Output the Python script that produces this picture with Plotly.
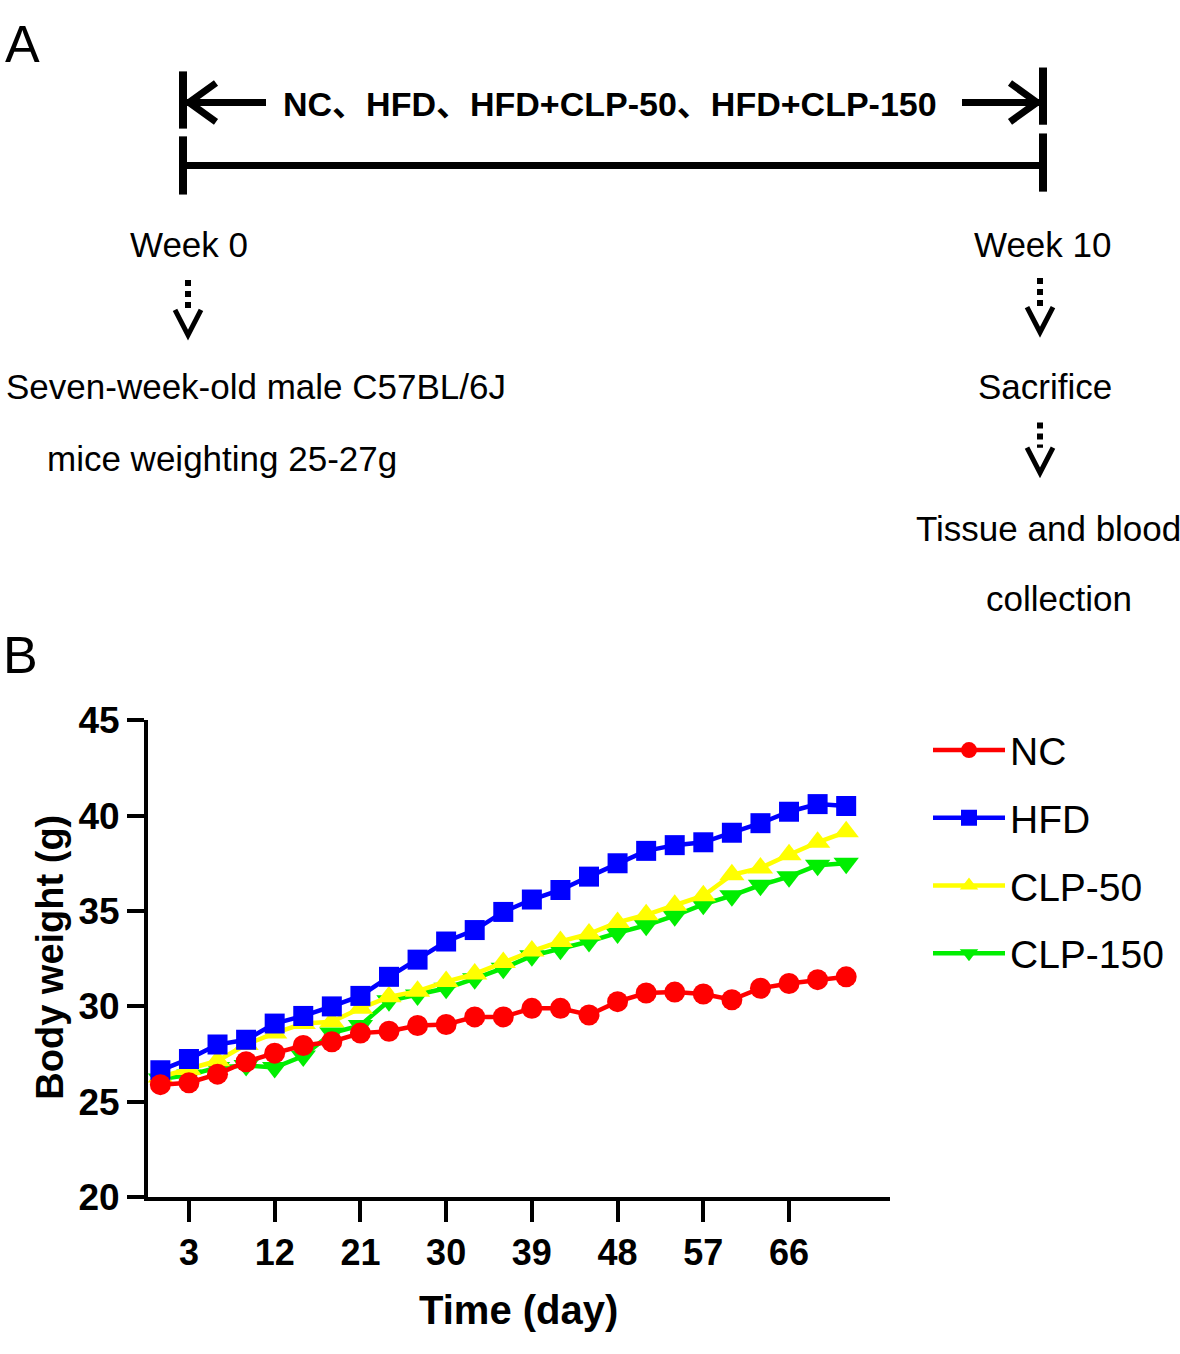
import plotly.graph_objects as go

W, H = 1180, 1354

# ---------------- data ----------------
days = [0, 3, 6, 9, 12, 15, 18, 21, 24, 27, 30, 33, 36, 39, 42, 45, 48, 51, 54, 57, 60, 63, 66, 69, 72]
nc = [25.9, 26.0, 26.45, 27.1, 27.55, 27.95, 28.15, 28.6, 28.7, 29.0, 29.05, 29.45, 29.45,
      29.9, 29.9, 29.55, 30.25, 30.7, 30.75, 30.65, 30.35, 30.95, 31.2, 31.4, 31.55]
hfd = [26.65, 27.25, 28.0, 28.25, 29.1, 29.5, 30.0, 30.55, 31.55, 32.45, 33.4, 34.0, 34.95,
       35.6, 36.1, 36.8, 37.5, 38.15, 38.45, 38.6, 39.1, 39.6, 40.2, 40.6, 40.5]
clp50 = [26.3, 26.7, 27.15, 28.0, 28.6, 29.1, 29.2, 29.9, 30.5, 30.8, 31.3, 31.7, 32.3,
         32.9, 33.4, 33.8, 34.4, 34.8, 35.3, 35.8, 36.9, 37.25, 37.95, 38.6, 39.15]
clp150 = [26.2, 26.4, 26.8, 26.9, 26.8, 27.4, 28.6, 29.0, 30.3, 30.6, 30.95, 31.45, 32.0,
          32.65, 33.0, 33.4, 33.85, 34.25, 34.75, 35.35, 35.8, 36.35, 36.8, 37.4, 37.5]
x_ticks = [3, 12, 21, 30, 39, 48, 57, 66]
y_ticks = [20, 25, 30, 35, 40, 45]

FONT = "Liberation Sans, Arial, Noto Sans CJK SC, sans-serif"
NARROW = "Liberation Sans Narrow, Arial Narrow, Liberation Sans, Arial, sans-serif"


def px(x, y):
    return x / W, 1 - y / H


fig = go.Figure()

series = [
    ("CLP-150", clp150, "#00EE00", "triangle-down", 4, 22),
    ("CLP-50", clp50, "#FFFF00", "triangle-up", 3, 22),
    ("HFD", hfd, "#0000FF", "square", 2, 20),
    ("NC", nc, "#FF0000", "circle", 1, 21),
]
for name, vals, col, sym, rank, sz in series:
    fig.add_trace(go.Scatter(
        x=days, y=vals, name=name, mode="lines+markers",
        line=dict(color=col, width=4.5),
        marker=dict(symbol=sym, size=sz, color=col, line=dict(width=0)),
        legendgroup=name, legendrank=rank,
    ))

# ---------------- panel A diagram ----------------
shapes = []


def seg(x0, y0, x1, y1, w=7, dash="solid"):
    a, b = px(x0, y0)
    c, d = px(x1, y1)
    shapes.append(dict(type="line", xref="paper", yref="paper", x0=a, y0=b, x1=c, y1=d,
                       line=dict(color="black", width=w, dash=dash)))


def path(points, w=6):
    s = ""
    for i, (x, y) in enumerate(points):
        a, b = px(x, y)
        s += ("M" if i == 0 else "L") + f"{a},{b} "
    shapes.append(dict(type="path", xref="paper", yref="paper", path=s.strip(),
                       line=dict(color="black", width=w)))


# vertical bars
seg(183, 53, 183, 112, 8)
seg(183, 120, 183, 180, 8)
seg(1043, 49, 1043, 108, 8)
seg(1043, 117, 1043, 177, 8)
# horizontal timeline
seg(183, 150, 1043, 150, 7)
# top arrows
seg(187, 85, 266, 85, 7)
path([(216, 65), (189, 85), (216, 105)], 7)
seg(962, 85, 1039, 85, 7)
path([(1010, 65), (1037, 85), (1010, 105)], 7)


def dotted_arrow(x, y0, y1):
    seg(x, y0, x, y1 - 26, 6, "6px,5px")
    path([(x - 13, y1 - 26), (x, y1), (x + 13, y1 - 26)], 5)


dotted_arrow(188, 268, 325)
dotted_arrow(1040, 266, 322)
dotted_arrow(1040, 415, 467)

ann = []


def text(x, y, s, size=35, bold=False, family=FONT, xanchor="center"):
    a, b = px(x, y)
    ann.append(dict(xref="paper", yref="paper", x=a, y=b, text=f"<b>{s}</b>" if bold else s,
                    showarrow=False, xanchor=xanchor, yanchor="middle",
                    font=dict(family=family, size=size, color="black")))


text(22, 25, "A", size=52)
text(20, 655, "B", size=52)
text(610, 87, "NC、HFD、HFD+CLP-50、HFD+CLP-150", size=34, bold=True)
text(189, 232, "Week 0", size=35)
text(1043, 232, "Week 10", size=35)
text(256, 378, "Seven-week-old male C57BL/6J", size=35)
text(222, 452, "mice weighting 25-27g", size=35)
text(1045, 378, "Sacrifice", size=35)
text(1048, 524, "Tissue and blood", size=35)
text(1059, 597, "collection", size=35)

# axis titles
text(518, 1330, "Time (day)", size=40, bold=True, family=NARROW)
a, b = px(50, 967)
ann.append(dict(xref="paper", yref="paper", x=a, y=b, text="<b>Body weight (g)</b>",
                showarrow=False, textangle=-90, xanchor="center", yanchor="middle",
                font=dict(family=FONT, size=38, color="black")))

fig.update_layout(
    width=W, height=H, autosize=False,
    margin=dict(l=0, r=0, t=0, b=0),
    paper_bgcolor="white", plot_bgcolor="white",
    shapes=shapes, annotations=ann,
    showlegend=True,
    legend=dict(x=928 / W, y=1 - 720 / H, xanchor="left", yanchor="top",
                font=dict(family=FONT, size=39, color="black"),
                tracegroupgap=14, itemwidth=72, bgcolor="rgba(0,0,0,0)"),
    xaxis=dict(domain=[148 / W, 890 / W], range=[-1.3, 76.6], tickvals=x_ticks,
               ticktext=[str(t) for t in x_ticks],
               showline=True, linecolor="black", linewidth=4, mirror=False,
               ticks="outside", ticklen=21, tickwidth=4, tickcolor="black",
               showgrid=False, zeroline=False,
               tickfont=dict(family=NARROW, size=36, color="black", weight="bold")),
    yaxis=dict(domain=[1 - 1214 / H, 1 - 722 / H], range=[20, 45], tickvals=y_ticks,
               showline=True, linecolor="black", linewidth=4, mirror=False,
               ticks="outside", ticklen=17, tickwidth=4, tickcolor="black",
               showgrid=False, zeroline=False,
               tickfont=dict(family=FONT, size=37, color="black", weight="bold")),
)

post = (
    "document.documentElement.style.margin='0';"
    "document.body.style.margin='0';document.body.style.padding='0';"
    "document.body.style.overflow='hidden';"
    "document.documentElement.style.overflow='hidden';"
    "var gd=document.getElementById('{plot_id}');"
    "gd.style.position='fixed';gd.style.top='0px';gd.style.left='0px';"
)

fig.write_html("out.html", config={"displayModeBar": False}, post_script=post)
